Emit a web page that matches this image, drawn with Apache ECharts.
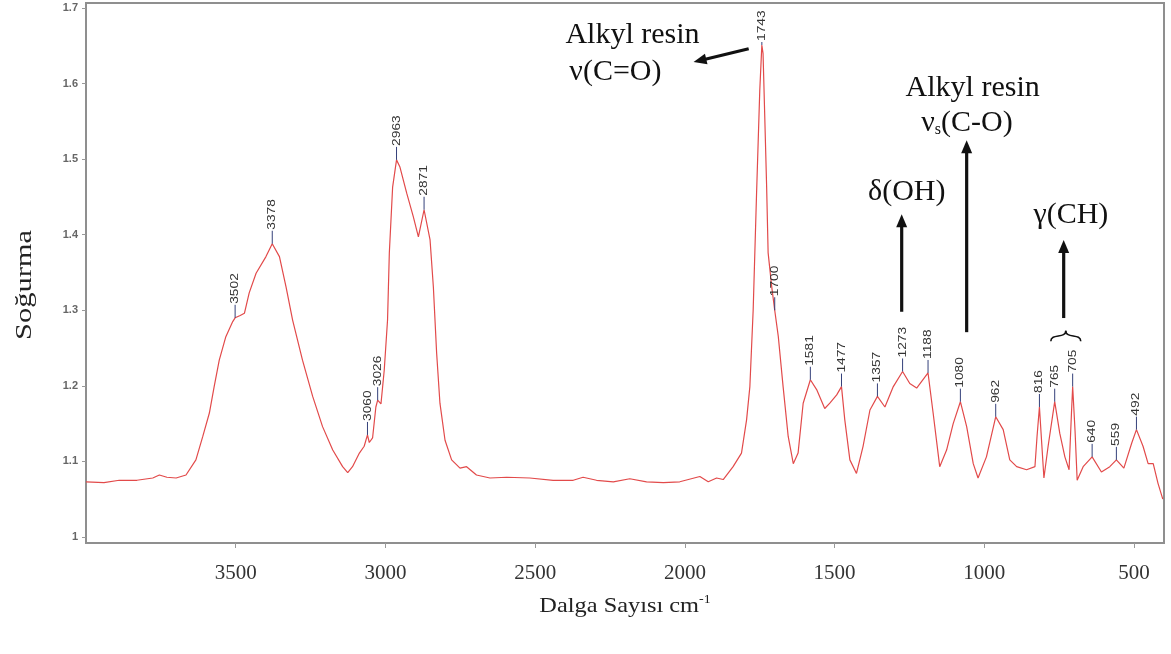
<!DOCTYPE html>
<html>
<head>
<meta charset="utf-8">
<script src="https://cdn.jsdelivr.net/npm/echarts@6/dist/echarts.min.js"></script>
<style>
  html, body { margin: 0; padding: 0; background: #fff; }
  #chart { width: 1171px; height: 654px; }
</style>
</head>
<body>
<div id="chart"></div>
<script>
// FTIR spectrum of the alkyd-resin sample (wavenumber in cm-1, absorbance)
const wavenumber = [
  4000, 3940, 3889, 3830, 3777, 3755, 3730, 3699, 3666, 3633, 3610, 3588, 3572, 3555, 3533, 3510,
  3502, 3485, 3471, 3455, 3432, 3399, 3378, 3354, 3332, 3310, 3277, 3243, 3210, 3176, 3143, 3126,
  3110, 3087, 3071, 3060, 3054, 3043, 3032, 3026, 3015, 3004, 2993, 2987, 2976, 2963, 2952, 2929,
  2907, 2890, 2871, 2851, 2840, 2829, 2818, 2801, 2779, 2751, 2729, 2696, 2651, 2595, 2518, 2440,
  2373, 2340, 2295, 2239, 2184, 2128, 2072, 2017, 1950, 1922, 1894, 1872, 1839, 1811, 1794, 1783,
  1772, 1761, 1750, 1743, 1739, 1733, 1727, 1722, 1710, 1700, 1688, 1672, 1655, 1638, 1622, 1605,
  1581, 1560, 1533, 1516, 1493, 1477, 1466, 1449, 1427, 1405, 1382, 1357, 1332, 1304, 1273, 1249,
  1226, 1188, 1171, 1149, 1126, 1104, 1080, 1059, 1037, 1021, 993, 962, 937, 915, 892, 859,
  831, 824, 816, 809, 801, 787, 765, 748, 731, 717, 709, 705, 697, 690, 670, 640,
  609, 581, 559, 534, 508, 492, 470, 453, 436, 420, 404
];
const absorbance = [
  1.073, 1.072, 1.075, 1.075, 1.078, 1.082, 1.079, 1.078, 1.082, 1.102, 1.133, 1.164, 1.199, 1.234, 1.265, 1.285,
  1.290, 1.293, 1.296, 1.323, 1.349, 1.371, 1.388, 1.371, 1.331, 1.287, 1.234, 1.186, 1.146, 1.115, 1.093, 1.085,
  1.093, 1.111, 1.120, 1.135, 1.125, 1.131, 1.172, 1.181, 1.176, 1.221, 1.287, 1.376, 1.463, 1.499, 1.490, 1.455,
  1.424, 1.397, 1.433, 1.393, 1.331, 1.243, 1.177, 1.128, 1.102, 1.091, 1.093, 1.082, 1.078, 1.079, 1.078, 1.075,
  1.075, 1.079, 1.075, 1.073, 1.077, 1.073, 1.072, 1.073, 1.080, 1.073, 1.078, 1.076, 1.093, 1.111, 1.155, 1.199,
  1.300, 1.450, 1.590, 1.651, 1.640, 1.552, 1.463, 1.376, 1.331, 1.300, 1.265, 1.199, 1.133, 1.097, 1.111, 1.177,
  1.208, 1.195, 1.170, 1.177, 1.188, 1.199, 1.155, 1.102, 1.084, 1.120, 1.168, 1.186, 1.172, 1.199, 1.219, 1.203,
  1.197, 1.217, 1.164, 1.093, 1.115, 1.150, 1.179, 1.146, 1.097, 1.078, 1.106, 1.159, 1.142, 1.102, 1.093, 1.089,
  1.093, 1.133, 1.172, 1.128, 1.078, 1.120, 1.179, 1.137, 1.106, 1.089, 1.164, 1.199, 1.140, 1.075, 1.093, 1.106,
  1.086, 1.093, 1.102, 1.091, 1.124, 1.142, 1.120, 1.097, 1.097, 1.071, 1.050
];

// Peaks picked on the spectrum (labelled with their wavenumber)
const peakWavenumbers = [3502, 3378, 3060, 3026, 2963, 2871, 1743, 1700, 1581, 1477, 1357, 1273, 1188, 1080, 962, 816, 765, 705, 640, 559, 492];

// Axis tick values and titles
const xTickValues = [500, 1000, 1500, 2000, 2500, 3000, 3500];
const yTickValues = [1, 1.1, 1.2, 1.3, 1.4, 1.5, 1.6, 1.7];
const xTitle = 'Dalga Sayısı cm';
const xTitleSup = '-1';
const yTitle = 'Soğurma';

// Band assignments: text anchors and arrows in (wavenumber, absorbance)
const bandTexts = [
  { text: 'Alkyl resin', at: [2175, 1.664] },
  { text: 'ν(C=O)', at: [2232, 1.615] },
  { text: 'Alkyl resin', at: [1039, 1.594] },
  { text: '{t|ν}{s|s}{t|(C-O)}', at: [1058, 1.548] },
  { text: 'δ(OH)', at: [1259, 1.456] },
  { text: 'γ(CH)', at: [711, 1.426] }
];
const bandArrows = [
  { from: [1787, 1.646], to: [1971, 1.6285] },
  { from: [1059, 1.271], to: [1059, 1.525] },
  { from: [1276, 1.298], to: [1276, 1.427] },
  { from: [735, 1.2897], to: [735, 1.393] }
];
const braceSpan = { left: [778, 1.259], right: [678, 1.259], tip: [728, 1.273] };

const SERIF = '"Liberation Serif", "Times New Roman", serif';
const SANS = 'Arial, "Liberation Sans", sans-serif';

const spectrum = wavenumber.map((w, i) => [w, absorbance[i]]);
const peaks = peakWavenumbers.map(w => [w, absorbance[wavenumber.indexOf(w)], String(w)]);

const chart = echarts.init(document.getElementById('chart'), null, { renderer: 'canvas' });

chart.setOption({
  backgroundColor: '#ffffff',
  animation: false,
  grid: {
    left: 86, right: 7, top: 3, bottom: 111,
    show: true, borderColor: '#8f8f8f', borderWidth: 2, backgroundColor: 'transparent'
  },
  xAxis: {
    type: 'value', min: 400, max: 4000, inverse: true,
    axisLine: { show: false },
    splitLine: { show: false },
    axisTick: { show: true, length: 5, customValues: xTickValues, lineStyle: { color: '#999', width: 1 } },
    axisLabel: {
      customValues: xTickValues, margin: 20,
      fontFamily: SERIF, fontSize: 21, color: '#333',
      formatter: v => String(v)
    }
  },
  yAxis: {
    type: 'value', min: 0.992, max: 1.7066,
    axisLine: { show: false },
    splitLine: { show: false },
    axisTick: { show: true, length: 4, customValues: yTickValues, lineStyle: { color: '#999', width: 1 } },
    axisLabel: {
      customValues: yTickValues, margin: 8,
      fontFamily: SANS, fontSize: 11, fontWeight: 'bold', color: '#666',
      formatter: v => (Math.abs(v - 1) < 1e-9 ? '1' : v.toFixed(1))
    }
  },
  series: [
    {
      type: 'line',
      data: spectrum,
      showSymbol: false,
      symbol: 'none',
      lineStyle: { color: '#e24a4a', width: 1.2 },
      z: 2
    },
    {
      type: 'custom',
      data: peaks,
      z: 3,
      renderItem: function (params, api) {
        const p = api.coord([api.value(0), api.value(1)]);
        const textLen = 31;
        // keep the tallest label inside the frame
        const stem = Math.max(2, Math.min(13, p[1] - 3 - textLen - 8));
        const top = p[1] - stem;
        return {
          type: 'group',
          children: [
            {
              type: 'line',
              shape: { x1: p[0], y1: p[1], x2: p[0], y2: top },
              style: { stroke: '#34407a', lineWidth: 1 }
            },
            {
              type: 'text',
              x: p[0], y: top - 1,
              rotation: Math.PI / 2,
              scaleX: 1.25,
              style: {
                text: peaks[params.dataIndex][2],
                fontFamily: SANS, fontSize: 11, fill: '#333',
                align: 'left', verticalAlign: 'middle'
              }
            }
          ]
        };
      }
    }
  ]
});

// Annotation layer placed through the grid's coordinate system
function px(pt) { return chart.convertToPixel({ gridIndex: 0 }, pt); }

const graphics = [];

// axis titles, centred on each axis
(function () {
  const a = px([4000, 0.992]), b = px([400, 0.992]), c = px([4000, 1.7066]);
  graphics.push({
    type: 'text', x: (a[0] + b[0]) / 2, y: a[1] + 63, scaleX: 1.16,
    style: {
      text: '{m|' + xTitle + '}{u|' + xTitleSup + '}',
      align: 'center', verticalAlign: 'middle',
      rich: {
        m: { fontFamily: SERIF, fontSize: 21, fill: '#222' },
        u: { fontFamily: SERIF, fontSize: 12, fill: '#222', padding: [0, 0, 12, 0] }
      }
    }
  });
  graphics.push({
    type: 'text', x: a[0] - 61, y: (a[1] + c[1]) / 2 + 12,
    rotation: Math.PI / 2, scaleX: 1.27,
    style: {
      text: yTitle, fontFamily: SERIF, fontSize: 24, fill: '#222',
      align: 'center', verticalAlign: 'middle'
    }
  });
})();

bandTexts.forEach(t => {
  const p = px(t.at);
  graphics.push({
    type: 'text', x: p[0], y: p[1], z: 10,
    style: {
      text: t.text, fontFamily: SERIF, fontSize: 30, fill: '#111',
      align: 'center', verticalAlign: 'middle',
      rich: {
        t: { fontFamily: SERIF, fontSize: 30, fill: '#111' },
        s: { fontFamily: SERIF, fontSize: 16, fill: '#111', padding: [14, 0, 0, 0] }
      }
    }
  });
});

bandArrows.forEach(a => {
  const p0 = px(a.from), p1 = px(a.to);
  const dx = p1[0] - p0[0], dy = p1[1] - p0[1];
  const len = Math.hypot(dx, dy);
  const ux = dx / len, uy = dy / len;
  const headLen = 13, headHalf = 5.5;
  const bx = p1[0] - ux * headLen, by = p1[1] - uy * headLen;
  graphics.push({
    type: 'line', z: 10,
    shape: { x1: p0[0], y1: p0[1], x2: bx + ux * 2, y2: by + uy * 2 },
    style: { stroke: '#111', lineWidth: 3.2 }
  });
  graphics.push({
    type: 'polygon', z: 10,
    shape: { points: [[p1[0], p1[1]], [bx - uy * headHalf, by + ux * headHalf], [bx + uy * headHalf, by - ux * headHalf]] },
    style: { fill: '#111' }
  });
});

// curly brace grouping the out-of-plane C-H bands
(function () {
  const l = px(braceSpan.left), r = px(braceSpan.right), t = px(braceSpan.tip);
  const midY = (l[1] + t[1]) / 2;
  [l, r].forEach(e => {
    graphics.push({
      type: 'bezierCurve', z: 10,
      shape: {
        x1: e[0], y1: e[1],
        cpx1: e[0], cpy1: midY - 3,
        cpx2: t[0], cpy2: midY + 3,
        x2: t[0], y2: t[1]
      },
      style: { stroke: '#111', lineWidth: 1.6, fill: null }
    });
  });
})();

chart.setOption({ graphic: graphics });
</script>
</body>
</html>
